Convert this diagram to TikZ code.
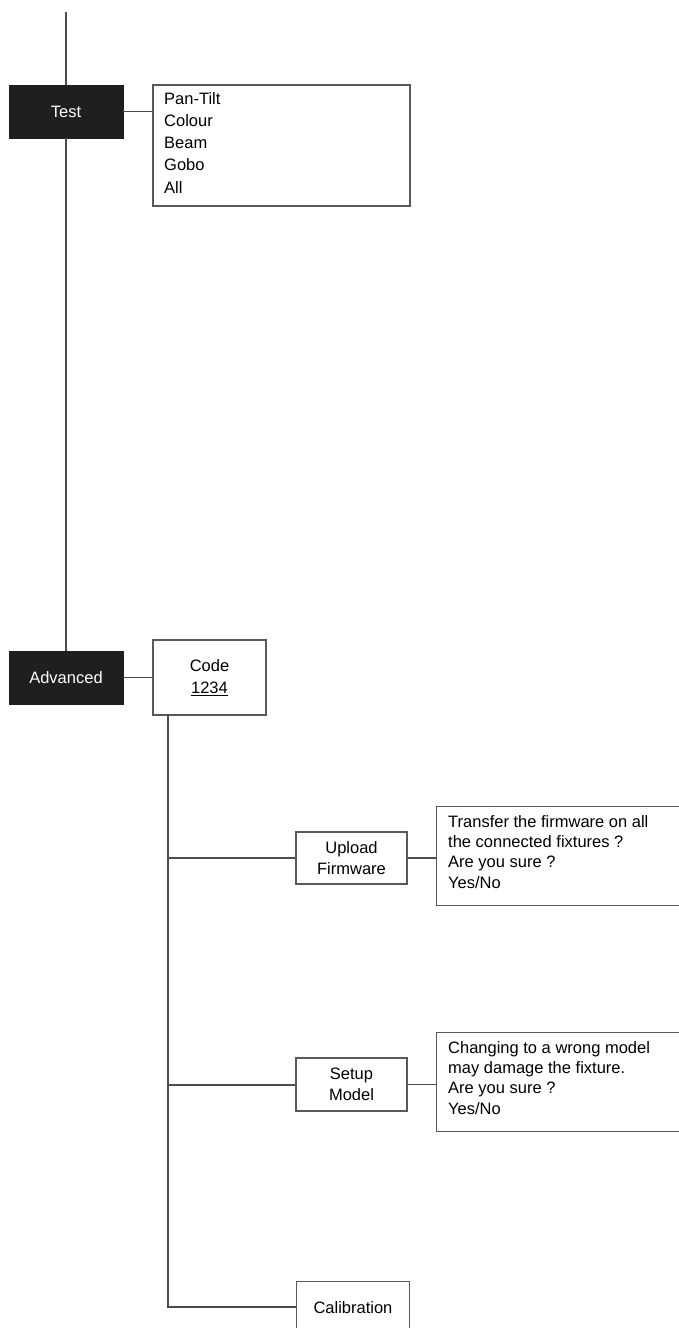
\documentclass[tikz,border=0pt]{standalone}
\usepackage{fontspec}
\setmainfont{Liberation Sans}
\begin{document}
\begin{tikzpicture}[x=1pt,y=-1pt,
  ln/.style={draw=black!70,line width=1.3pt},
  darkbox/.style={fill=black!88,draw=black!88,text=white,minimum width=114pt,minimum height=53pt,inner sep=0pt,font=\fontsize{16.5}{20}\selectfont},
  menubox/.style={draw=black!65,line width=1.3pt,fill=white,align=center,inner sep=0pt,font=\fontsize{16.5}{22.5}\selectfont},
  listtext/.style={align=left,inner sep=0pt,anchor=north west},
]
\useasboundingbox (0,0) rectangle (679,1328);
\fill[white] (0,0) rectangle (679,1328);

% main spine
\coordinate (top) at (66,12);
\node[darkbox] (test) at (66,111.5) {Test};
\node[darkbox] (adv) at (66,677.5) {Advanced};
\draw[ln] (top) -- (test.north);
\draw[ln] (test.south) -- (adv.north);

% test options
\node[menubox,minimum width=257pt,minimum height=121pt] (opts) at (281.5,145.5) {};
\node[listtext,font=\fontsize{16.5}{22.25}\selectfont] (optstext) at (164,92) {Pan-Tilt\\Colour\\Beam\\Gobo\\All};
\draw[ln] (test.east) -- (test.east -| opts.west);

% code
\node[menubox,minimum width=113pt,minimum height=75pt] (code) at (209.5,677.5) {Code\\\underline{1234}};
\draw[ln] (adv.east) -- (code.west);

% sub-menu spine
\coordinate (spineTop) at (168,715);
\coordinate (j1) at (168,858);
\coordinate (j2) at (168,1085);
\coordinate (j3) at (168,1307);

\node[menubox,minimum width=111pt,minimum height=52pt,font=\fontsize{16.5}{21}\selectfont] (upload) at (351.5,858) {Upload\\Firmware};
\node[menubox,minimum width=111pt,minimum height=53pt,font=\fontsize{16.5}{21}\selectfont] (setup) at (351.5,1084.5) {Setup\\Model};
\node[inner sep=0pt,minimum width=112pt,minimum height=52pt,font=\fontsize{16.5}{21}\selectfont] (calib) at (353,1307.5) {Calibration};
\draw[ln,draw=black!65] (calib.south west) -- (calib.north west) -- (calib.north east) -- (calib.south east);

\draw[ln] (spineTop) -- (j3) -- (j3 -| calib.west);
\draw[ln] (j1) -- (j1 -| upload.west);
\draw[ln] (j2) -- (j2 -| setup.west);

% firmware confirm box (open on the right)
\node[inner sep=0pt,minimum width=242pt,minimum height=98pt] (fwbox) at (558,856) {};
\node[listtext,font=\fontsize{16.5}{20.3}\selectfont] (fwtext) at (448,815) {Transfer the firmware on all\\the connected fixtures ?\\Are you sure ?\\Yes/No};
\draw[ln,draw=black!65] (fwbox.north east) -- (fwbox.north west) -- (fwbox.south west) -- (fwbox.south east);
\draw[ln] (upload.east) -- (upload.east -| fwbox.west);

% model confirm box
\node[inner sep=0pt,minimum width=242pt,minimum height=98pt] (mdbox) at (558,1082) {};
\node[listtext,font=\fontsize{16.5}{20.3}\selectfont] (mdtext) at (448,1041) {Changing to a wrong model\\may damage the fixture.\\Are you sure ?\\Yes/No};
\draw[ln,draw=black!65] (mdbox.north east) -- (mdbox.north west) -- (mdbox.south west) -- (mdbox.south east);
\draw[ln] (setup.east) -- (setup.east -| mdbox.west);
\end{tikzpicture}
\end{document}
